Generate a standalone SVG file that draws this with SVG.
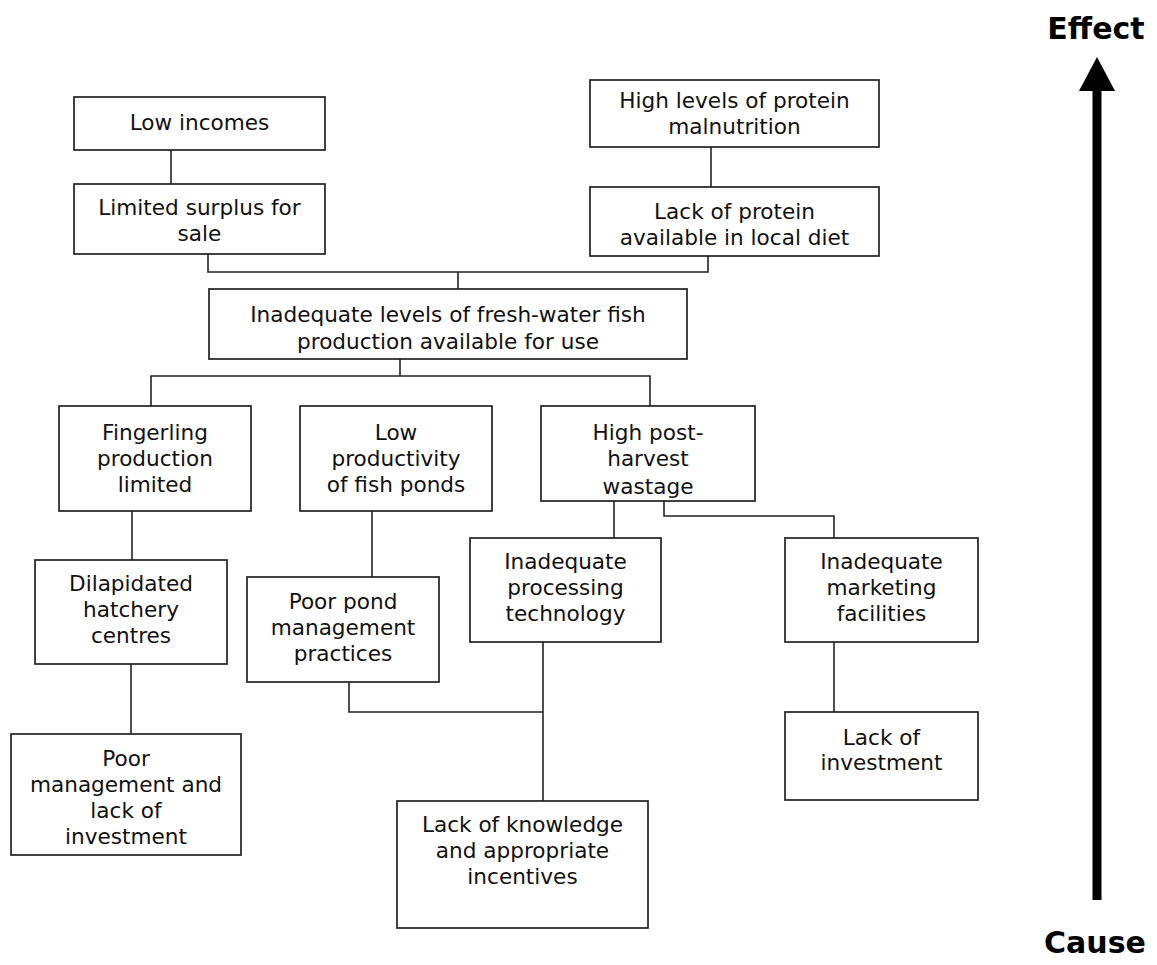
<svg xmlns="http://www.w3.org/2000/svg" width="1157" height="965" viewBox="0 0 1157 965">
<style>
.box{fill:#fff;stroke:#222;stroke-width:1.7}
.t{font-family:"DejaVu Sans","Verdana",sans-serif;font-size:21.6px;fill:#111;text-anchor:middle}
.c{fill:none;stroke:#222;stroke-width:1.6}
.b{font-family:"DejaVu Sans","Verdana",sans-serif;font-size:30px;font-weight:bold;fill:#000;text-anchor:middle}
</style>
<defs>
<clipPath id="clip5"><rect x="209" y="289" width="478" height="70"/></clipPath>
<clipPath id="clip8"><rect x="541" y="406" width="214" height="95"/></clipPath>
</defs>
<rect width="1157" height="965" fill="#fff"/>
<g id="connectors">
<path class="c" d="M171,150V184"/>
<path class="c" d="M208,254V272H708V256"/>
<path class="c" d="M458,272V289"/>
<path class="c" d="M711,147V187"/>
<path class="c" d="M400,359V376"/>
<path class="c" d="M151,406V376H650V406"/>
<path class="c" d="M132,511V560"/>
<path class="c" d="M131,664V734"/>
<path class="c" d="M372,511V577"/>
<path class="c" d="M614,501V538"/>
<path class="c" d="M664,501V516H834V538"/>
<path class="c" d="M834,642V712"/>
<path class="c" d="M349,682V712H543"/>
<path class="c" d="M543,642V801"/>
</g>
<g id="n1"><rect class="box" x="74" y="97" width="251" height="53"/><text class="t" x="199.5" y="130">Low incomes</text></g>
<g id="n2"><rect class="box" x="74" y="184" width="251" height="70"/><text class="t" x="199.5" y="215">Limited surplus for</text><text class="t" x="199.5" y="241">sale</text></g>
<g id="n3"><rect class="box" x="590" y="80" width="289" height="67"/><text class="t" x="734.5" y="108">High levels of protein</text><text class="t" x="734.5" y="134">malnutrition</text></g>
<g id="n4"><rect class="box" x="590" y="187" width="289" height="69"/><text class="t" x="734.5" y="219">Lack of protein</text><text class="t" x="734.5" y="245">available in local diet</text></g>
<g id="n5"><rect class="box" x="209" y="289" width="478" height="70"/><g clip-path="url(#clip5)"><text class="t" x="448" y="322">Inadequate levels of fresh-water fish</text><text class="t" x="448" y="349">production available for use</text></g></g>
<g id="n6"><rect class="box" x="59" y="406" width="192" height="105"/><text class="t" x="155" y="440">Fingerling</text><text class="t" x="155" y="466">production</text><text class="t" x="155" y="492">limited</text></g>
<g id="n7"><rect class="box" x="300" y="406" width="192" height="105"/><text class="t" x="396" y="440">Low</text><text class="t" x="396" y="466">productivity</text><text class="t" x="396" y="492">of fish ponds</text></g>
<g id="n8"><rect class="box" x="541" y="406" width="214" height="95"/><g clip-path="url(#clip8)"><text class="t" x="648" y="440">High post-</text><text class="t" x="648" y="466">harvest</text><text class="t" x="648" y="494">wastage</text></g></g>
<g id="n9"><rect class="box" x="35" y="560" width="192" height="104"/><text class="t" x="131" y="591">Dilapidated</text><text class="t" x="131" y="617">hatchery</text><text class="t" x="131" y="643">centres</text></g>
<g id="n10"><rect class="box" x="247" y="577" width="192" height="105"/><text class="t" x="343" y="609">Poor pond</text><text class="t" x="343" y="635">management</text><text class="t" x="343" y="661">practices</text></g>
<g id="n11"><rect class="box" x="470" y="538" width="191" height="104"/><text class="t" x="565.5" y="569">Inadequate</text><text class="t" x="565.5" y="595">processing</text><text class="t" x="565.5" y="621">technology</text></g>
<g id="n12"><rect class="box" x="785" y="538" width="193" height="104"/><text class="t" x="881.5" y="569">Inadequate</text><text class="t" x="881.5" y="595">marketing</text><text class="t" x="881.5" y="621">facilities</text></g>
<g id="n13"><rect class="box" x="11" y="734" width="230" height="121"/><text class="t" x="126" y="766">Poor</text><text class="t" x="126" y="792">management and</text><text class="t" x="126" y="818">lack of</text><text class="t" x="126" y="844">investment</text></g>
<g id="n14"><rect class="box" x="397" y="801" width="251" height="127"/><text class="t" x="522.5" y="832">Lack of knowledge</text><text class="t" x="522.5" y="858">and appropriate</text><text class="t" x="522.5" y="884">incentives</text></g>
<g id="n15"><rect class="box" x="785" y="712" width="193" height="88"/><text class="t" x="881.5" y="745">Lack of</text><text class="t" x="881.5" y="770">investment</text></g>
<g id="axis">
<rect x="1092.5" y="90" width="9" height="810" fill="#000"/>
<polygon points="1097,57 1079,91 1115,91" fill="#000"/>
<text class="b" x="1096" y="39">Effect</text>
<text class="b" x="1095" y="953">Cause</text>
</g>
</svg>
